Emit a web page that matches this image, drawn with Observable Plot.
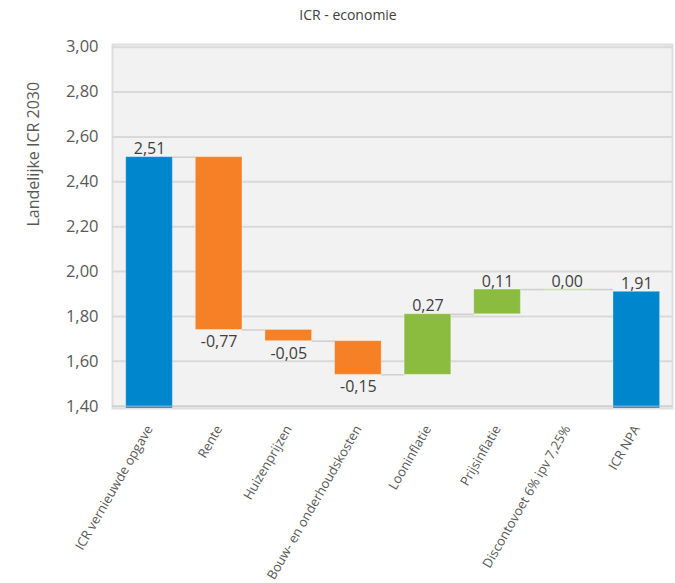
<!DOCTYPE html>
<html>
<head>
<meta charset="utf-8">
<script src="https://cdn.jsdelivr.net/npm/d3@7"></script>
<script src="https://cdn.jsdelivr.net/npm/@observablehq/plot@0.6"></script>
<style>
  html, body { margin: 0; padding: 0; background: #ffffff; }
  body { width: 675px; height: 583px; overflow: hidden; font-family: "Open Sans", sans-serif; }
  #title { height: 30px; line-height: 30px; text-align: center; padding-left: 21px; box-sizing: border-box; font-size: 14px; color: #404040; }
  #chart svg { display: block; }
</style>
</head>
<body>
<div id="title">ICR - economie</div>
<div id="chart"></div>
<script>
// ---- data ----
const categories = [
  "ICR vernieuwde opgave",
  "Rente",
  "Huizenprijzen",
  "Bouw- en onderhoudskosten",
  "Looninflatie",
  "Prijsinflatie",
  "Discontovoet 6% ipv 7,25%",
  "ICR NPA"
];
const startValue = 2.51;
const deltas = [-0.77, -0.05, -0.15, 0.27, 0.11, 0.00];
const endValue = 1.91;
const yTicks = [1.4, 1.6, 1.8, 2.0, 2.2, 2.4, 2.6, 2.8, 3.0];
const yLabel = "Landelijke ICR 2030";

// ---- styling ----
const colors = {total: "#0086CD", neg: "#F58025", pos: "#8BBB3F"};
const yDomain = [1.39, 3.012];
const xDomain = [-0.532, 7.513];
const hw = 0.335; // half bar width in category units
const fmt = v => v.toFixed(2).replace(".", ",");

// ---- build waterfall rows ----
const rows = [];
rows.push({i: 0, kind: "total", lo: yDomain[0], hi: startValue, value: startValue, end: startValue});
let level = startValue;
deltas.forEach((d, k) => {
  const from = level;
  level = +(level + d).toFixed(4);
  rows.push({i: k + 1, kind: d < 0 ? "neg" : "pos", lo: Math.min(from, level), hi: Math.max(from, level), value: d, end: level});
});
rows.push({i: categories.length - 1, kind: "total", lo: yDomain[0], hi: endValue, value: endValue, end: endValue});

const connectors = rows.slice(0, -1).map(r => ({x1: r.i + hw, x2: r.i + 1 - hw, y: r.end}));
const barRows = rows.filter(r => r.hi > r.lo);
const zeroRows = rows.filter(r => r.hi === r.lo);
const negRows = rows.filter(r => r.kind === "neg");
const upRows = rows.filter(r => r.kind !== "neg");

const chart = Plot.plot({
  width: 675,
  height: 553,
  marginTop: 14,
  marginBottom: 175,
  marginLeft: 112,
  marginRight: 3,
  style: {fontFamily: "Open Sans", background: "#ffffff"},
  x: {type: "linear", domain: xDomain, axis: null},
  y: {domain: yDomain, axis: null},
  marks: [
    Plot.frame({fill: "#f2f2f2", stroke: "#dedede", strokeWidth: 2}),
    Plot.gridY(yTicks, {stroke: "#d9d9d9", strokeOpacity: 1, strokeWidth: 2}),
    Plot.axisY(yTicks, {
      tickFormat: fmt, tickSize: 0, tickPadding: 14, fontSize: 16.5, fill: "#595959", label: null
    }),
    Plot.text([yLabel], {
      frameAnchor: "left", rotate: -90, dx: -79, fontSize: 16, fill: "#595959"
    }),
    Plot.ruleY(connectors, {x1: "x1", x2: "x2", y: "y", stroke: "#cfcfcf", strokeWidth: 1.5}),
    Plot.rect(barRows, {
      x1: d => d.i - hw, x2: d => d.i + hw, y1: "lo", y2: "hi",
      fill: d => colors[d.kind], stroke: "#ffffff", strokeOpacity: 0.3, strokeWidth: 1
    }),
    Plot.ruleY(zeroRows, {x1: d => d.i - hw, x2: d => d.i + hw, y: "hi", stroke: colors.pos, strokeOpacity: 0.35, strokeWidth: 1.5}),
    Plot.ruleY([yTicks[0]], {stroke: "#c8c8c8", strokeOpacity: 0.55, strokeWidth: 1.5}),
    Plot.text(upRows, {
      x: "i", y: "hi", text: d => fmt(d.value),
      lineAnchor: "bottom", dy: -3, fontSize: 16, fill: "#404040"
    }),
    Plot.text(negRows, {
      x: "i", y: "lo", text: d => fmt(d.value),
      lineAnchor: "top", dy: 6, fontSize: 16, fill: "#404040"
    }),
    Plot.axisX(d3.range(categories.length), {
      tickFormat: i => categories[i], tickRotate: -60, tickSize: 0, tickPadding: 18,
      fontSize: 13, fill: "#595959", label: null
    })
  ]
});
document.getElementById("chart").appendChild(chart);
</script>
</body>
</html>
